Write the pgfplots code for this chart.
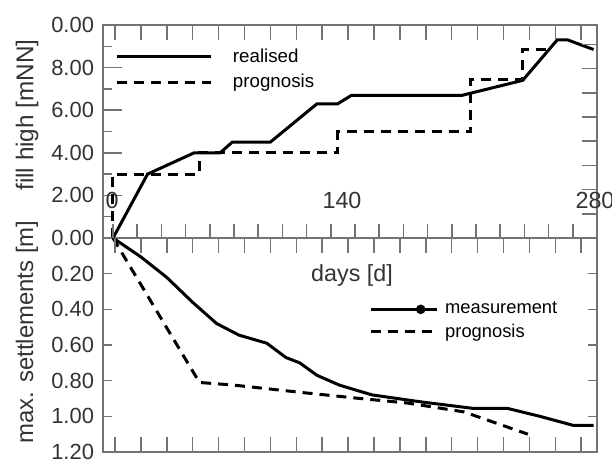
\documentclass[border=0pt]{standalone}
\usepackage{pgfplots}
\pgfplotsset{compat=1.18}
\usepackage{fontspec}
\setmainfont{Liberation Sans}

\definecolor{frame}{gray}{0.45}
\definecolor{lbl}{gray}{0.2}

\begin{document}
\begin{tikzpicture}
\path[use as bounding box] (-51.5bp,-114bp) rectangle (254.5bp,119bp);

\pgfplotsset{
  panel/.style={
    scale only axis, width=247bp,
    xmin=-5.785, xmax=280,
    xtick=\empty,
    tick align=inside,
    axis line style={frame, line width=0.75bp},
    every tick/.style={frame, line width=0.75bp},
    /pgf/number format/assume math mode=true,
    yticklabel style={font=\fontsize{11}{13}\selectfont, text=lbl, xshift=-1bp},
    clip=false,
  },
  real/.style={black, line width=1.5bp},
  prog/.style={black, line width=1.5bp, dash pattern=on 5bp off 3.5bp},
}

% upper panel: fill height
\begin{axis}[panel,
  at={(0bp,0bp)}, anchor=south west, height=106.5bp,
  ymin=0, ymax=10,
  ytick={2,4,6,8,10}, yticklabels={2.00,4.00,6.00,8.00,0.00},
  minor ytick={1,3,5,7,9},
  ytick pos=left,
  major tick length=9.5bp, minor tick length=4.5bp,
  legend style={draw=none, fill=none, inner sep=0pt,
    at={(axis cs:1.5,9.0)}, anchor=north west,
    font=\fontsize{9.4}{11}\selectfont, row sep=2.5bp,
    nodes={inner sep=1bp},
    /tikz/every odd column/.append style={column sep=9bp}},
  legend cell align=left,
  legend image code/.code={\draw[#1] (0bp,0bp) -- (47bp,0bp);},
]
\addplot[real] coordinates {
(0,0) (20,3.0) (47,4.0) (62,4.0) (69,4.5) (91,4.5) (118,6.3) (130,6.3)
(138,6.7) (202,6.7) (237,7.4) (257,9.3) (263,9.3) (278,8.85)
};
\addlegendentry{realised}
\addplot[prog] coordinates {
(0,0) (0,3) (50,3) (50,4) (130,4) (130,5) (207,5) (207,7.45)
(237,7.45) (237,8.85) (252,8.85)
};
\addlegendentry{prognosis}
\end{axis}

% lower panel: settlements
\begin{axis}[panel,
  at={(0bp,0bp)}, anchor=north west, height=107bp,
  ymin=0, ymax=1.2, y dir=reverse,
  ytick={0,0.2,0.4,0.6,0.8,1.0,1.2},
  yticklabels={0.00,0.20,0.40,0.60,0.80,1.00,1.20},
  ytick pos=both, yticklabel pos=left,
  major tick length=4.5bp,
  legend style={draw=none, fill=none, inner sep=0pt,
    at={(axis cs:148,0.345)}, anchor=north west,
    font=\fontsize{9.2}{11}\selectfont, row sep=1.5bp,
    nodes={inner sep=1bp},
    /tikz/every odd column/.append style={column sep=2.5bp}},
  legend cell align=left,
]
\addplot[real, legend image code/.code={
  \draw[black, line width=1.5bp] (0bp,0bp) -- (33bp,0bp);
  \fill[black] (25bp,0bp) circle (1.6bp);}] coordinates {
(0,0) (16,0.105) (31,0.22) (46,0.36) (60,0.48) (73,0.545) (89,0.59)
(100,0.67) (108,0.70) (118,0.77) (131,0.825) (143,0.86) (150,0.88)
(179,0.92) (208,0.955) (228,0.955) (247,1.0) (266,1.05) (278,1.05)
};
\addlegendentry{measurement}
\addplot[prog, legend image code/.code={
  \draw[black, line width=1.5bp, dash pattern=on 5bp off 3.5bp] (0bp,0bp) -- (33bp,0bp);}] coordinates {
(0,0) (50,0.81) (70,0.825) (108,0.865) (143,0.90) (170,0.925)
(203,0.975) (240,1.10)
};
\addlegendentry{prognosis}
\end{axis}

% day ticks
\foreach \i in {0,...,20}
  \draw[frame, line width=0.75bp] ({5bp+\i*12.1bp},0bp) -- ++(0bp,7bp);
\foreach \i in {0,...,18} {
  \draw[frame, line width=0.75bp] ({6bp+\i*12.95bp},106.5bp) -- ++(0bp,-7.5bp);
  \draw[frame, line width=0.75bp] ({6bp+\i*12.95bp},0bp) -- ++(0bp,-7.5bp);
  \draw[frame, line width=0.75bp] ({6bp+\i*12.95bp},-107bp) -- ++(0bp,7.5bp);
}
\foreach \i in {1,...,8}
  \draw[frame, line width=0.75bp] (247bp,{\i*12.1bp}) -- ++(-7.5bp,0bp);

% day labels
\begin{scope}[every node/.style={font=\fontsize{11.7}{14}\selectfont, text=lbl}]
\node at (4.5bp,19bp) {0};
\node at (119.5bp,19bp) {140};
\node at (246bp,19bp) {280};
\node at (124.5bp,-18.5bp) {days [d]};
\end{scope}

% axis titles
\node[rotate=90, font=\fontsize{12.2}{14}\selectfont, text=lbl] at (-38bp,61.5bp) {fill high [mNN]};
\node[rotate=90, font=\fontsize{12}{14}\selectfont, text=lbl] at (-38bp,-47bp) {max. settlements [m]};
\end{tikzpicture}
\end{document}
